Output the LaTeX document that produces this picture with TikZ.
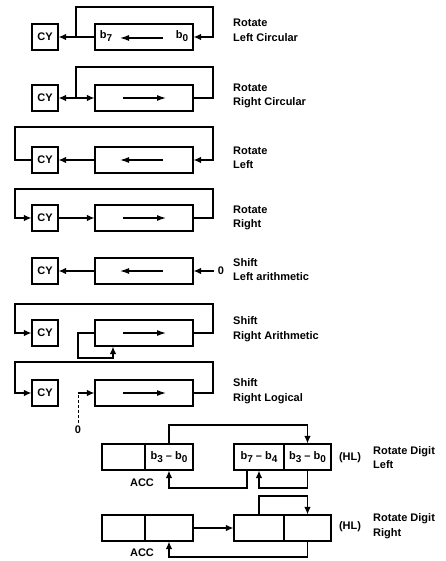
\documentclass[tikz,border=0pt]{standalone}
\usepackage{fontspec}
\setmainfont{Liberation Sans}
\usetikzlibrary{arrows.meta,calc}
\newcommand{\bsub}[2]{#1\raisebox{-0.5ex}{\fontsize{10}{10}\selectfont #2}}
\begin{document}
\begin{tikzpicture}[x=1pt,y=-1pt,
  every node/.style={font=\fontsize{11}{14.5}\selectfont\bfseries},
  box/.style={draw, line width=1.2pt, inner sep=0pt, minimum height=26pt},
  cybox/.style={box, minimum width=26pt},
  regbox/.style={box, minimum width=98pt},
  ln/.style={line width=1.2pt},
  arr/.style={ln, -{Latex[length=7.5pt,width=6.5pt]}},
  iarr/.style={ln, -{Latex[length=9pt,width=6pt]}},
  lbl/.style={anchor=west, align=left, inner sep=0pt},
  plain/.style={inner sep=0pt}]
\useasboundingbox (0,0) rectangle (446,561);

% ---------- Row 1: Rotate Left Circular ----------
\node[cybox] (cy1) at (45,37) {CY};
\node[regbox] (r1) at (144,37) {};
\node[plain] (b71) at (106,36) {\bsub{b}{7}};
\node[plain] (b01) at (182,36) {\bsub{b}{0}};
\coordinate (j1) at (76,37);
\draw[arr] (r1.west) -- (cy1.east);
\draw[arr] (j1) -- (76,7) -- (213,7) -- (213,37) -- (r1.east);
\coordinate (ia1) at (163,38); \coordinate (ib1) at (120,38);
\draw[iarr] (ia1) -- (ib1);
\node[lbl] (t1) at (233,30.5) {Rotate\\Left Circular};

% ---------- Row 2: Rotate Right Circular ----------
\node[cybox] (cy2) at (45,98) {CY};
\node[regbox] (r2) at (144,98) {};
\coordinate (j2) at (76,98);
\draw[arr] (j2) -- (cy2.east);
\draw[arr] (j2) -- (r2.west);
\draw[ln] (j2) -- (76,67) -- (213,67) -- (213,98) -- (r2.east);
\coordinate (ia2) at (123,98); \coordinate (ib2) at (166,98);
\draw[iarr] (ia2) -- (ib2);
\node[lbl] (t2) at (233,96) {Rotate\\Right Circular};

% ---------- Row 3: Rotate Left ----------
\node[cybox] (cy3) at (45,160) {CY};
\node[regbox] (r3) at (144,160) {};
\draw[arr] (r3.west) -- (cy3.east);
\draw[arr] (cy3.west) -- (15,160) -- (15,127) -- (213,127) -- (213,160) -- (r3.east);
\coordinate (ia3) at (163,160); \coordinate (ib3) at (120,160);
\draw[iarr] (ia3) -- (ib3);
\node[lbl] (t3) at (233,158) {Rotate\\Left};

% ---------- Row 4: Rotate Right ----------
\node[cybox] (cy4) at (45,218) {CY};
\node[regbox] (r4) at (144,218) {};
\draw[arr] (cy4.east) -- (r4.west);
\draw[arr] (r4.east) -- (213,218) -- (213,189) -- (15,189) -- (15,218) -- (cy4.west);
\coordinate (ia4) at (123,218); \coordinate (ib4) at (166,218);
\draw[iarr] (ia4) -- (ib4);
\node[lbl] (t4) at (233,218) {Rotate\\Right};

% ---------- Row 5: Shift Left arithmetic ----------
\node[cybox] (cy5) at (45,271) {CY};
\node[regbox] (r5) at (144,271) {};
\draw[arr] (r5.west) -- (cy5.east);
\node (z5) at (221,271) {0};
\draw[arr] (z5.west) -- (r5.east);
\coordinate (ia5) at (163,271); \coordinate (ib5) at (120,271);
\draw[iarr] (ia5) -- (ib5);
\node[lbl] (t5) at (233,269.5) {Shift\\Left arithmetic};

% ---------- Row 6: Shift Right Arithmetic ----------
\node[cybox] (cy6) at (45,333) {CY};
\node[regbox] (r6) at (144,333) {};
\draw[arr] (r6.east) -- (213,333) -- (213,304) -- (15,304) -- (15,333) -- (cy6.west);
\coordinate (fb6) at (113,358);
\draw[arr] (r6.west) -| (78,358) -- (fb6) -- (fb6 |- r6.south);
\coordinate (ia6) at (123,333); \coordinate (ib6) at (166,333);
\draw[iarr] (ia6) -- (ib6);
\node[lbl] (t6) at (233,329) {Shift\\Right Arithmetic};

% ---------- Row 7: Shift Right Logical ----------
\node[cybox] (cy7) at (45,393) {CY};
\node[regbox] (r7) at (144,393) {};
\draw[arr] (r7.east) -- (213,393) -- (213,362) -- (15,362) -- (15,393) -- (cy7.west);
\node (z7) at (78,430) {0};
\coordinate (k7) at (78,393);
\draw[line width=0.6pt, densely dashed] (z7.north) -- (k7);
\draw[arr] (k7) -- (r7.west);
\coordinate (ia7) at (123,393); \coordinate (ib7) at (166,393);
\draw[iarr] (ia7) -- (ib7);
\node[lbl] (t7) at (233,391) {Shift\\Right Logical};

% ---------- Row 8: Rotate Digit Left ----------
\node[box, minimum width=43pt] (a8a) at (123.5,457) {};
\node[box, minimum width=48pt] (a8b) at (169,457) {\bsub{b}{3} -- \bsub{b}{0}};
\node[box, minimum width=50pt] (h8a) at (259,457) {\bsub{b}{7} -- \bsub{b}{4}};
\node[box, minimum width=47pt] (h8b) at (307.5,457) {\bsub{b}{3} -- \bsub{b}{0}};
\node (acc8) at (142,483) {ACC};
\node (hl8) at (350,458) {(HL)};
\node[lbl] (t8) at (373,457.5) {Rotate Digit\\Left};
\draw[arr] (a8b.north) -- (169,425) -- (307.5,425) -- (h8b.north);
\draw[arr] ($(h8a.south)+(-12,0)$) -- (247,488) -- (169,488) -- (a8b.south);
\draw[arr] (h8b.south) -- (307.5,488) -- (259,488) -- (h8a.south);

% ---------- Row 9: Rotate Digit Right ----------
\node[box, minimum width=43pt] (a9a) at (123.5,528) {};
\node[box, minimum width=48pt] (a9b) at (169,528) {};
\node[box, minimum width=50pt] (h9a) at (259,528) {};
\node[box, minimum width=47pt] (h9b) at (307.5,528) {};
\node (acc9) at (142,553) {ACC};
\node (hl9) at (350,527) {(HL)};
\node[lbl] (t9) at (373,526) {Rotate Digit\\Right};
\draw[arr] (a9b.east) -- (h9a.west);
\draw[arr] (h9a.north) -- (259,496) -- (307.5,496) -- (h9b.north);
\draw[arr] (h9b.south) -- (307.5,557) -- (169,557) -- (a9b.south);
\end{tikzpicture}
\end{document}
